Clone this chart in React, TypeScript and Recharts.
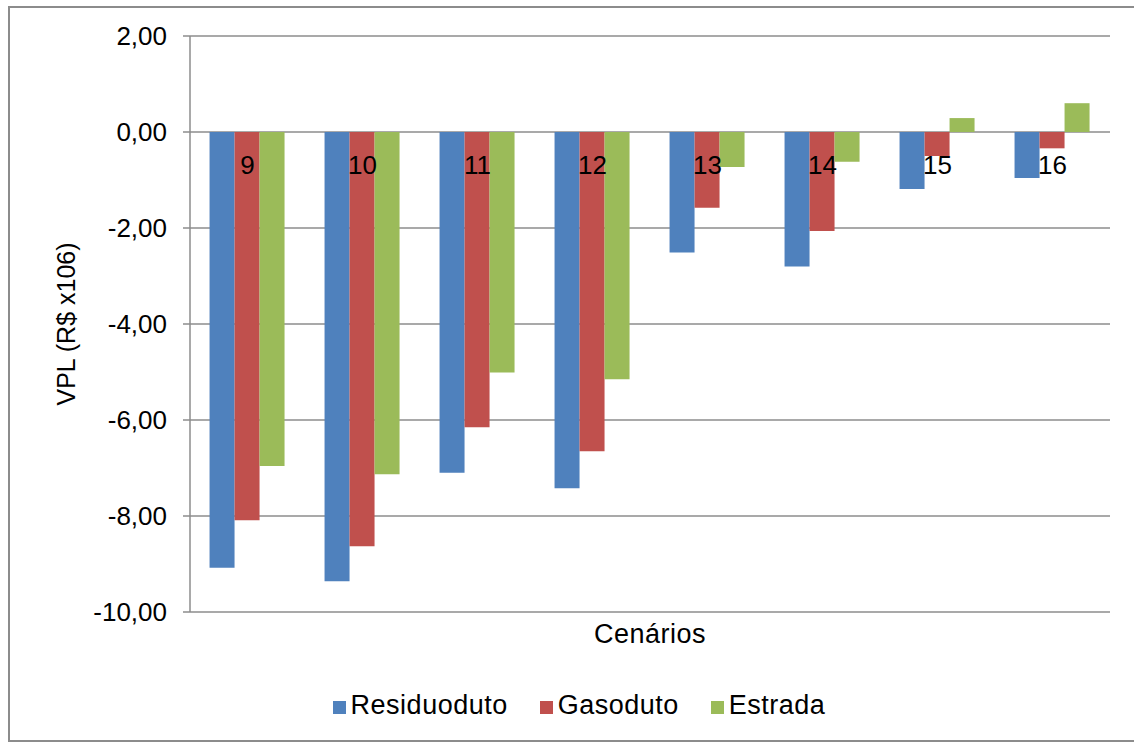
import { BarChart, Bar, XAxis, YAxis, CartesianGrid, Legend, ReferenceDot } from 'recharts';

const categories = ['9', '10', '11', '12', '13', '14', '15', '16'];
const residuoduto = [-9.08, -9.36, -7.1, -7.42, -2.51, -2.8, -1.19, -0.96];
const gasoduto = [-8.09, -8.63, -6.15, -6.65, -1.58, -2.06, -0.5, -0.34];
const estrada = [-6.96, -7.13, -5.01, -5.15, -0.73, -0.62, 0.29, 0.6];
const yTicks = [-10, -8, -6, -4, -2, 0, 2];

const series = [
  { key: 'residuoduto', name: 'Residuoduto', color: '#4F81BD' },
  { key: 'gasoduto', name: 'Gasoduto', color: '#C0504D' },
  { key: 'estrada', name: 'Estrada', color: '#9BBB59' }
];

const data = categories.map((c, i) => ({
  cenario: c,
  residuoduto: residuoduto[i],
  gasoduto: gasoduto[i],
  estrada: estrada[i]
}));

const FONT = '"Liberation Sans", Arial, sans-serif';
const GRID = '#8c8c8c';

const formatTick = (v: number) => v.toFixed(2).replace('.', ',');

const LegendContent = () => (
  <div
    style={{
      display: 'flex',
      justifyContent: 'center',
      gap: 32,
      paddingLeft: 38,
      fontSize: 27,
      letterSpacing: 0.5,
      lineHeight: '30px',
      color: '#000'
    }}
  >
    {series.map(s => (
      <span key={s.key} style={{ display: 'flex', alignItems: 'center' }}>
        <span style={{ width: 13, height: 13, background: s.color, marginRight: 5, marginTop: 4 }} />
        {s.name}
      </span>
    ))}
  </div>
);

export default function App() {
  return (
    <div style={{ position: 'fixed', left: 8, top: 6, width: 1126, height: 736, overflow: 'hidden' }}>
      <div style={{ width: 1130, height: 732, border: `2px solid ${GRID}`, background: '#fff', fontFamily: FONT }}>
        <BarChart
          width={1124}
          height={732}
          data={data}
          margin={{ top: 28, right: 24, left: 0, bottom: 20 }}
          barCategoryGap="17%"
          barGap={0}
          style={{ fontFamily: FONT }}
        >
          <CartesianGrid vertical={false} stroke={GRID} strokeWidth={1.5} />
          <XAxis
            dataKey="cenario"
            height={78}
            axisLine={false}
            tickLine={false}
            tick={false}
            label={{
              value: 'Cenários',
              position: 'insideTop',
              offset: 12,
              fill: '#000',
              fontSize: 27,
              style: { letterSpacing: 0.5 }
            }}
          />
          <YAxis
            width={180}
            domain={[-10, 2]}
            ticks={yTicks}
            interval={0}
            tickFormatter={formatTick}
            axisLine={{ stroke: GRID, strokeWidth: 1.5 }}
            tickLine={{ stroke: GRID, strokeWidth: 1.5 }}
            tickSize={7}
            tickMargin={16}
            tick={{ fill: '#000', fontSize: 26 }}
            label={{
              value: 'VPL (R$ x106)',
              angle: -90,
              position: 'insideLeft',
              offset: 56,
              fill: '#000',
              fontSize: 25,
              style: { textAnchor: 'middle' }
            }}
          />
          <Legend verticalAlign="bottom" content={<LegendContent />} />
          {series.map(s => (
            <Bar key={s.key} dataKey={s.key} name={s.name} fill={s.color} isAnimationActive={false} />
          ))}
          {categories.map(c => (
            <ReferenceDot
              key={c}
              x={c}
              y={0}
              r={0}
              fill="none"
              stroke="none"
              label={{ value: c, position: 'bottom', offset: 24, fill: '#000', fontSize: 26 }}
            />
          ))}
        </BarChart>
      </div>
    </div>
  );
}
